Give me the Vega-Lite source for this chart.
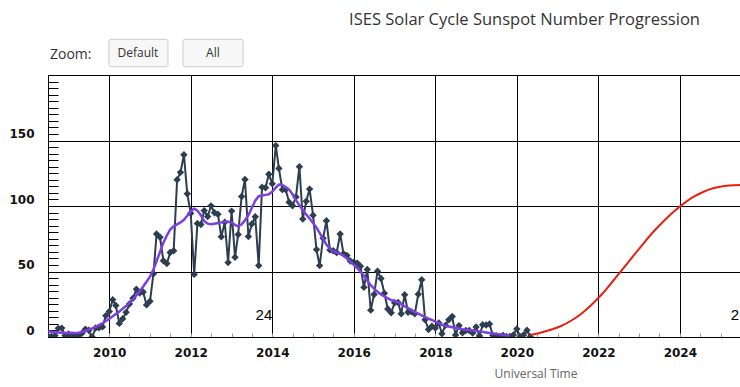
{
  "$schema": "https://vega.github.io/schema/vega-lite/v6.json",
  "width": 692,
  "height": 262,
  "autosize": {"type": "none"},
  "padding": {"left": 48, "top": 75, "right": 0, "bottom": 50},
  "background": "#ffffff",
  "config": {"view": {"stroke": null}},
  "datasets": {
    "observed": [
      {"t": "2008-07", "ssn": 0.8, "sm": 4.4},
      {"t": "2008-08", "ssn": 0.5, "sm": 4.0},
      {"t": "2008-09", "ssn": 1.1, "sm": 3.6},
      {"t": "2008-10", "ssn": 6.6, "sm": 3.4},
      {"t": "2008-11", "ssn": 6.8, "sm": 3.2},
      {"t": "2008-12", "ssn": 1.2, "sm": 3.0},
      {"t": "2009-01", "ssn": 2.3, "sm": 3.0},
      {"t": "2009-02", "ssn": 1.6, "sm": 3.0},
      {"t": "2009-03", "ssn": 0.8, "sm": 3.1},
      {"t": "2009-04", "ssn": 1.2, "sm": 3.3},
      {"t": "2009-05", "ssn": 2.9, "sm": 3.8},
      {"t": "2009-06", "ssn": 6.0, "sm": 4.6},
      {"t": "2009-07", "ssn": 5.1, "sm": 5.6},
      {"t": "2009-08", "ssn": 0.0, "sm": 6.6},
      {"t": "2009-09", "ssn": 6.9, "sm": 7.8},
      {"t": "2009-10", "ssn": 7.1, "sm": 9.0},
      {"t": "2009-11", "ssn": 7.7, "sm": 10.5},
      {"t": "2009-12", "ssn": 16.3, "sm": 12.2},
      {"t": "2010-01", "ssn": 19.5, "sm": 14.0},
      {"t": "2010-02", "ssn": 28.5, "sm": 15.8},
      {"t": "2010-03", "ssn": 24.0, "sm": 17.6},
      {"t": "2010-04", "ssn": 10.4, "sm": 19.5},
      {"t": "2010-05", "ssn": 13.9, "sm": 21.5},
      {"t": "2010-06", "ssn": 18.8, "sm": 23.6},
      {"t": "2010-07", "ssn": 25.2, "sm": 26.0},
      {"t": "2010-08", "ssn": 29.6, "sm": 28.8},
      {"t": "2010-09", "ssn": 36.4, "sm": 31.8},
      {"t": "2010-10", "ssn": 33.6, "sm": 35.0},
      {"t": "2010-11", "ssn": 34.4, "sm": 38.5},
      {"t": "2010-12", "ssn": 24.5, "sm": 42.2},
      {"t": "2011-01", "ssn": 27.3, "sm": 46.0},
      {"t": "2011-02", "ssn": 48.3, "sm": 51.5},
      {"t": "2011-03", "ssn": 78.6, "sm": 58.0},
      {"t": "2011-04", "ssn": 76.1, "sm": 65.0},
      {"t": "2011-05", "ssn": 58.2, "sm": 72.0},
      {"t": "2011-06", "ssn": 56.1, "sm": 77.5},
      {"t": "2011-07", "ssn": 64.5, "sm": 82.0},
      {"t": "2011-08", "ssn": 65.8, "sm": 84.5},
      {"t": "2011-09", "ssn": 120.1, "sm": 86.0},
      {"t": "2011-10", "ssn": 125.7, "sm": 87.5},
      {"t": "2011-11", "ssn": 139.1, "sm": 89.5},
      {"t": "2011-12", "ssn": 109.3, "sm": 92.5},
      {"t": "2012-01", "ssn": 94.4, "sm": 96.0},
      {"t": "2012-02", "ssn": 47.8, "sm": 98.0},
      {"t": "2012-03", "ssn": 86.6, "sm": 96.5},
      {"t": "2012-04", "ssn": 85.9, "sm": 93.0},
      {"t": "2012-05", "ssn": 96.5, "sm": 88.5},
      {"t": "2012-06", "ssn": 92.0, "sm": 86.5},
      {"t": "2012-07", "ssn": 100.1, "sm": 86.0},
      {"t": "2012-08", "ssn": 94.8, "sm": 86.5},
      {"t": "2012-09", "ssn": 93.7, "sm": 87.0},
      {"t": "2012-10", "ssn": 76.5, "sm": 87.5},
      {"t": "2012-11", "ssn": 87.6, "sm": 88.0},
      {"t": "2012-12", "ssn": 56.8, "sm": 88.0},
      {"t": "2013-01", "ssn": 96.1, "sm": 87.5},
      {"t": "2013-02", "ssn": 60.9, "sm": 85.5},
      {"t": "2013-03", "ssn": 78.3, "sm": 84.5},
      {"t": "2013-04", "ssn": 107.3, "sm": 86.0},
      {"t": "2013-05", "ssn": 120.2, "sm": 89.0},
      {"t": "2013-06", "ssn": 76.7, "sm": 93.0},
      {"t": "2013-07", "ssn": 86.2, "sm": 98.5},
      {"t": "2013-08", "ssn": 91.8, "sm": 104.0},
      {"t": "2013-09", "ssn": 54.5, "sm": 107.5},
      {"t": "2013-10", "ssn": 114.4, "sm": 108.0},
      {"t": "2013-11", "ssn": 113.9, "sm": 108.5},
      {"t": "2013-12", "ssn": 124.2, "sm": 109.0},
      {"t": "2014-01", "ssn": 117.0, "sm": 111.0},
      {"t": "2014-02", "ssn": 146.1, "sm": 114.0},
      {"t": "2014-03", "ssn": 128.7, "sm": 116.4},
      {"t": "2014-04", "ssn": 112.5, "sm": 116.0},
      {"t": "2014-05", "ssn": 112.5, "sm": 114.5},
      {"t": "2014-06", "ssn": 102.9, "sm": 112.5},
      {"t": "2014-07", "ssn": 100.2, "sm": 109.0},
      {"t": "2014-08", "ssn": 106.9, "sm": 104.5},
      {"t": "2014-09", "ssn": 130.0, "sm": 100.5},
      {"t": "2014-10", "ssn": 90.0, "sm": 97.0},
      {"t": "2014-11", "ssn": 103.6, "sm": 93.5},
      {"t": "2014-12", "ssn": 112.9, "sm": 90.5},
      {"t": "2015-01", "ssn": 93.0, "sm": 87.0},
      {"t": "2015-02", "ssn": 66.7, "sm": 83.5},
      {"t": "2015-03", "ssn": 54.5, "sm": 79.5},
      {"t": "2015-04", "ssn": 75.3, "sm": 75.0},
      {"t": "2015-05", "ssn": 88.8, "sm": 70.5},
      {"t": "2015-06", "ssn": 66.5, "sm": 67.5},
      {"t": "2015-07", "ssn": 65.8, "sm": 65.5},
      {"t": "2015-08", "ssn": 64.4, "sm": 64.5},
      {"t": "2015-09", "ssn": 78.6, "sm": 63.5},
      {"t": "2015-10", "ssn": 63.6, "sm": 62.0},
      {"t": "2015-11", "ssn": 62.2, "sm": 60.0},
      {"t": "2015-12", "ssn": 58.0, "sm": 57.5},
      {"t": "2016-01", "ssn": 57.0, "sm": 55.0},
      {"t": "2016-02", "ssn": 56.4, "sm": 52.5},
      {"t": "2016-03", "ssn": 54.1, "sm": 50.0},
      {"t": "2016-04", "ssn": 37.9, "sm": 47.0},
      {"t": "2016-05", "ssn": 51.5, "sm": 43.0},
      {"t": "2016-06", "ssn": 20.5, "sm": 39.5},
      {"t": "2016-07", "ssn": 32.4, "sm": 37.0},
      {"t": "2016-08", "ssn": 50.2, "sm": 34.5},
      {"t": "2016-09", "ssn": 44.6, "sm": 32.5},
      {"t": "2016-10", "ssn": 33.4, "sm": 31.0},
      {"t": "2016-11", "ssn": 21.4, "sm": 29.5},
      {"t": "2016-12", "ssn": 18.5, "sm": 28.2},
      {"t": "2017-01", "ssn": 26.1, "sm": 27.5},
      {"t": "2017-02", "ssn": 26.4, "sm": 26.5},
      {"t": "2017-03", "ssn": 17.7, "sm": 25.0},
      {"t": "2017-04", "ssn": 32.3, "sm": 23.5},
      {"t": "2017-05", "ssn": 18.9, "sm": 22.0},
      {"t": "2017-06", "ssn": 19.2, "sm": 20.5},
      {"t": "2017-07", "ssn": 17.8, "sm": 19.0},
      {"t": "2017-08", "ssn": 32.6, "sm": 17.8},
      {"t": "2017-09", "ssn": 43.7, "sm": 16.5},
      {"t": "2017-10", "ssn": 13.2, "sm": 15.2},
      {"t": "2017-11", "ssn": 5.7, "sm": 14.0},
      {"t": "2017-12", "ssn": 8.2, "sm": 13.0},
      {"t": "2018-01", "ssn": 6.8, "sm": 11.8},
      {"t": "2018-02", "ssn": 10.7, "sm": 10.5},
      {"t": "2018-03", "ssn": 2.5, "sm": 9.2},
      {"t": "2018-04", "ssn": 8.9, "sm": 8.5},
      {"t": "2018-05", "ssn": 13.1, "sm": 8.0},
      {"t": "2018-06", "ssn": 15.6, "sm": 7.5},
      {"t": "2018-07", "ssn": 1.6, "sm": 7.0},
      {"t": "2018-08", "ssn": 8.7, "sm": 6.5},
      {"t": "2018-09", "ssn": 3.3, "sm": 6.0},
      {"t": "2018-10", "ssn": 4.9, "sm": 5.6},
      {"t": "2018-11", "ssn": 4.9, "sm": 5.3},
      {"t": "2018-12", "ssn": 3.1, "sm": 5.0},
      {"t": "2019-01", "ssn": 7.7, "sm": 4.7},
      {"t": "2019-02", "ssn": 0.8, "sm": 4.3},
      {"t": "2019-03", "ssn": 9.4, "sm": 3.9},
      {"t": "2019-04", "ssn": 9.1, "sm": 3.5},
      {"t": "2019-05", "ssn": 9.9, "sm": 3.1},
      {"t": "2019-06", "ssn": 1.2, "sm": 2.7},
      {"t": "2019-07", "ssn": 0.9, "sm": 2.3},
      {"t": "2019-08", "ssn": 0.5, "sm": 2.0},
      {"t": "2019-09", "ssn": 1.1, "sm": 1.6},
      {"t": "2019-10", "ssn": 0.4, "sm": 1.3},
      {"t": "2019-11", "ssn": 0.5, "sm": 1.1},
      {"t": "2019-12", "ssn": 1.5},
      {"t": "2020-01", "ssn": 6.2},
      {"t": "2020-02", "ssn": 0.2},
      {"t": "2020-03", "ssn": 1.5},
      {"t": "2020-04", "ssn": 5.2},
      {"t": "2020-05", "ssn": 0.2}
    ],
    "predicted": [
      {"t": "2020-05", "p": 1.5},
      {"t": "2020-08", "p": 3.3},
      {"t": "2020-11", "p": 5.5},
      {"t": "2021-02", "p": 8.4},
      {"t": "2021-05", "p": 12.4},
      {"t": "2021-08", "p": 17.8},
      {"t": "2021-11", "p": 24.6},
      {"t": "2022-02", "p": 32.6},
      {"t": "2022-05", "p": 41.6},
      {"t": "2022-08", "p": 51.2},
      {"t": "2022-11", "p": 61.0},
      {"t": "2023-02", "p": 70.6},
      {"t": "2023-05", "p": 79.6},
      {"t": "2023-08", "p": 87.8},
      {"t": "2023-11", "p": 95.2},
      {"t": "2024-02", "p": 101.6},
      {"t": "2024-05", "p": 106.9},
      {"t": "2024-08", "p": 110.9},
      {"t": "2024-11", "p": 113.7},
      {"t": "2025-02", "p": 115.3},
      {"t": "2025-05", "p": 115.9},
      {"t": "2025-08", "p": 116.0}
    ],
    "one": [{}]
  },
  "layer": [
    {
      "data": {"name": "observed"},
      "mark": {"type": "line", "color": "#2c3e50", "strokeWidth": 2, "clip": true},
      "encoding": {
        "x": {
          "field": "t", "type": "temporal",
          "scale": {"type": "utc", "domain": [{"year": 2008, "month": 7, "date": 1, "utc": true}, {"year": 2025, "month": 6, "date": 23, "utc": true}]},
          "axis": {
            "title": "Universal Time", "titleX": 487.5, "titleY": 36, "titleAlign": "center", "titleBaseline": "middle",
            "titleFont": "Open Sans", "titleFontSize": 12, "titleFontWeight": "normal", "titleColor": "#666666",
            "tickCount": {"interval": "month", "step": 6}, "tickSize": -4, "tickColor": "#999999", "tickWidth": 1,
            "labelExpr": "utcmonth(datum.value) == 0 && utcyear(datum.value) % 2 == 0 ? '' + utcyear(datum.value) : ''",
            "labelFont": "DejaVu Sans", "labelFontSize": 12, "labelFontWeight": "bold", "labelColor": "#111111",
            "labelPadding": 14, "labelFlush": false, "labelOverlap": false,
            "grid": true, "gridColor": "#000000", "gridWidth": 1,
            "gridOpacity": {"condition": {"test": "utcmonth(datum.value) == 0 && utcyear(datum.value) % 2 == 0", "value": 1}, "value": 0},
            "domainColor": "#000000", "domainWidth": 1
          }
        },
        "y": {
          "field": "ssn", "type": "quantitative",
          "scale": {"domain": [0, 200], "nice": false},
          "axis": {
            "title": "",
            "tickCount": 60,
            "values": [0, 5, 10, 15, 20, 25, 30, 35, 40, 45, 50, 55, 60, 65, 70, 75, 80, 85, 90, 95, 100, 105, 110, 115, 120, 125, 130, 135, 140, 145, 150, 155, 160, 165, 170, 175, 180, 185, 190, 195, 200],
            "tickSize": -10, "tickColor": "#000000", "tickWidth": 1,
            "labelExpr": "datum.value % 50 == 0 && datum.value < 200 ? datum.label : ''",
            "labelOffset": -7, "labelPadding": 24, "labelOverlap": false,
            "labelFont": "DejaVu Sans", "labelFontSize": 12, "labelFontWeight": "bold", "labelColor": "#111111",
            "grid": true, "gridColor": "#000000", "gridWidth": 1,
            "gridOpacity": {"condition": {"test": "datum.value % 50 == 0", "value": 1}, "value": 0},
            "domainColor": "#000000", "domainWidth": 1
          }
        }
      }
    },
    {
      "data": {"name": "observed"},
      "mark": {"type": "point", "shape": "diamond", "filled": true, "size": 55, "color": "#2c3e50", "opacity": 1, "clip": true},
      "encoding": {
        "x": {"field": "t", "type": "temporal"},
        "y": {"field": "ssn", "type": "quantitative"}
      }
    },
    {
      "data": {"name": "observed"},
      "mark": {"type": "line", "color": "#7b3fe4", "strokeWidth": 2.5, "clip": true},
      "encoding": {
        "x": {"field": "t", "type": "temporal"},
        "y": {"field": "sm", "type": "quantitative"}
      }
    },
    {
      "data": {"name": "predicted"},
      "mark": {"type": "line", "color": "#e8200f", "strokeWidth": 2, "interpolate": "monotone", "clip": true},
      "encoding": {
        "x": {"field": "t", "type": "temporal"},
        "y": {"field": "p", "type": "quantitative"}
      }
    },
    {
      "data": {"name": "one"},
      "mark": {"type": "text", "text": "24", "align": "right", "baseline": "middle", "font": "Liberation Sans", "fontSize": 15, "color": "#000000", "clip": false},
      "encoding": {
        "x": {"datum": {"year": 2014, "month": 1, "date": 1, "utc": true}, "type": "temporal"},
        "y": {"datum": 16.8, "type": "quantitative"}
      }
    },
    {
      "data": {"name": "one"},
      "mark": {"type": "text", "text": "2", "align": "left", "baseline": "middle", "font": "Liberation Sans", "fontSize": 15, "color": "#000000", "clip": false},
      "encoding": {
        "x": {"datum": {"year": 2025, "month": 4, "date": 1, "utc": true}, "type": "temporal"},
        "y": {"datum": 16.8, "type": "quantitative"}
      }
    },
    {
      "data": {"name": "one"},
      "mark": {"type": "text", "text": "ISES Solar Cycle Sunspot Number Progression", "align": "right", "baseline": "middle", "font": "Open Sans", "fontSize": 16.5, "color": "#333333", "clip": false},
      "encoding": {
        "x": {"datum": {"year": 2024, "month": 6, "date": 29, "utc": true}, "type": "temporal"},
        "y": {"datum": 242, "type": "quantitative"}
      }
    },
    {
      "data": {"name": "one"},
      "mark": {"type": "text", "text": "Zoom:", "align": "left", "baseline": "middle", "font": "Open Sans", "fontSize": 14, "color": "#333333", "clip": false},
      "encoding": {
        "x": {"datum": {"year": 2008, "month": 7, "date": 19, "utc": true}, "type": "temporal"},
        "y": {"datum": 215.3, "type": "quantitative"}
      }
    },
    {
      "data": {"name": "one"},
      "mark": {"type": "rect", "fill": "#f7f7f7", "stroke": "#cccccc", "strokeWidth": 1, "cornerRadius": 2, "clip": false},
      "encoding": {
        "x": {"datum": {"year": 2009, "month": 12, "date": 29, "utc": true}, "type": "temporal"},
        "x2": {"datum": {"year": 2011, "month": 6, "date": 11, "utc": true}},
        "y": {"datum": 227.2, "type": "quantitative"},
        "y2": {"datum": 206.3}
      }
    },
    {
      "data": {"name": "one"},
      "mark": {"type": "rect", "fill": "#f7f7f7", "stroke": "#cccccc", "strokeWidth": 1, "cornerRadius": 2, "clip": false},
      "encoding": {
        "x": {"datum": {"year": 2011, "month": 10, "date": 23, "utc": true}, "type": "temporal"},
        "x2": {"datum": {"year": 2013, "month": 4, "date": 14, "utc": true}},
        "y": {"datum": 227.2, "type": "quantitative"},
        "y2": {"datum": 206.3}
      }
    },
    {
      "data": {"name": "one"},
      "mark": {"type": "text", "text": "Default", "align": "center", "baseline": "middle", "font": "Open Sans", "fontSize": 12, "color": "#333333", "clip": false},
      "encoding": {
        "x": {"datum": {"year": 2010, "month": 9, "date": 15, "utc": true}, "type": "temporal"},
        "y": {"datum": 216.8, "type": "quantitative"}
      }
    },
    {
      "data": {"name": "one"},
      "mark": {"type": "text", "text": "All", "align": "center", "baseline": "middle", "font": "Open Sans", "fontSize": 12, "color": "#333333", "clip": false},
      "encoding": {
        "x": {"datum": {"year": 2012, "month": 7, "date": 18, "utc": true}, "type": "temporal"},
        "y": {"datum": 216.8, "type": "quantitative"}
      }
    }
  ]
}
